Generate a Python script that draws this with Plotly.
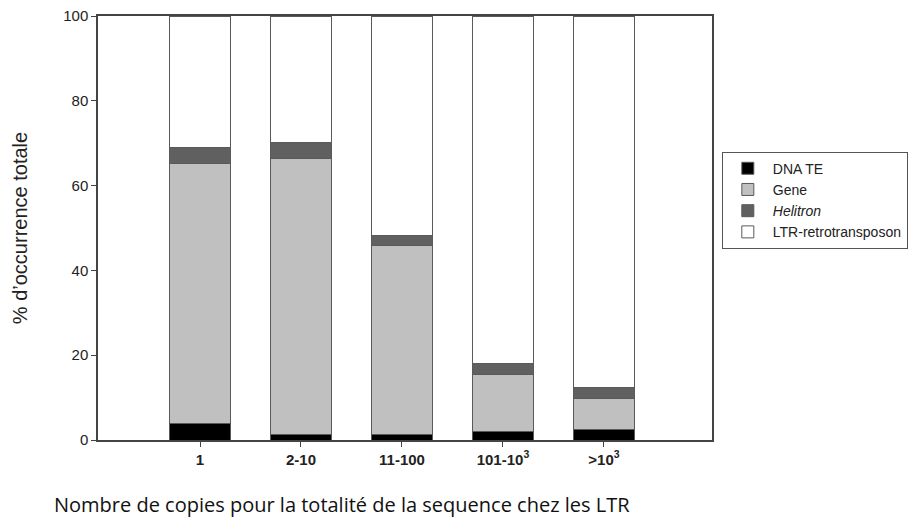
import plotly.graph_objects as go

categories = ["1", "2-10", "11-100", "101-10<sup>3</sup>", ">10<sup>3</sup>"]
dna_te = [4.0, 1.4, 1.2, 2.0, 2.4]
gene = [61.3, 64.9, 44.6, 13.5, 7.3]
helitron = [3.8, 3.8, 2.4, 2.6, 2.6]
ltr = [30.9, 29.9, 51.8, 81.9, 87.7]

series = [
    ("DNA TE", dna_te, "#000000"),
    ("Gene", gene, "#c0c0c0"),
    ("<i>Helitron</i>", helitron, "#606060"),
    ("LTR-retrotransposon", ltr, "#ffffff"),
]

FONT = "Liberation Sans, Arial, sans-serif"
XTITLE = "Nombre de copies pour la totalité de la sequence chez les LTR"

fig = go.Figure()
for name, vals, color in series:
    fig.add_trace(
        go.Bar(
            x=list(range(len(categories))),
            y=vals,
            name=name,
            width=0.6,
            marker=dict(color=color, line=dict(color="#5a5a5a", width=1)),
        )
    )

fig.update_layout(
    barmode="stack",
    width=917,
    height=517,
    paper_bgcolor="white",
    plot_bgcolor="white",
    font=dict(family=FONT, color="#222222", size=15),
    margin=dict(l=98, r=205, t=16, b=77, autoexpand=False),
    legend=dict(
        x=1.016,
        y=0.68,
        xanchor="left",
        yanchor="top",
        traceorder="normal",
        bordercolor="#555555",
        borderwidth=1,
        font=dict(size=14, color="#222222"),
        itemwidth=40,
        tracegroupgap=0,
    ),
    xaxis=dict(
        range=[-1.01, 5.07],
        tickvals=list(range(len(categories))),
        ticktext=["<b>%s</b>" % c for c in categories],
        tickfont=dict(size=15, color="#222222"),
        ticks="outside",
        ticklen=5,
        tickcolor="#444444",
        showline=True,
        linecolor="#444444",
        linewidth=1.5,
        mirror=True,
        showgrid=False,
        zeroline=False,
        automargin=False,
    ),
    yaxis=dict(
        range=[0, 100],
        tickvals=[0, 20, 40, 60, 80, 100],
        tickfont=dict(size=15, color="#222222"),
        ticks="outside",
        ticklen=5,
        tickcolor="#444444",
        showline=True,
        linecolor="#444444",
        linewidth=1.5,
        mirror=True,
        showgrid=False,
        zeroline=False,
        automargin=False,
        title=dict(text="% d’occurrence totale", font=dict(size=20), standoff=30),
    ),
    showlegend=True,
)

fig.add_annotation(
    text=XTITLE,
    xref="paper",
    yref="paper",
    x=(342 - 98) / 614,
    y=-(505 - 440) / 424,
    xanchor="center",
    yanchor="middle",
    showarrow=False,
    font=dict(size=20, family="Open Sans, sans-serif", color="#111111"),
)

# drop the default page margin so the figure sits at the window's corner
fig.write_html(
    "out.html",
    config={"displayModeBar": False},
    post_script="document.body.style.margin='0';",
)
